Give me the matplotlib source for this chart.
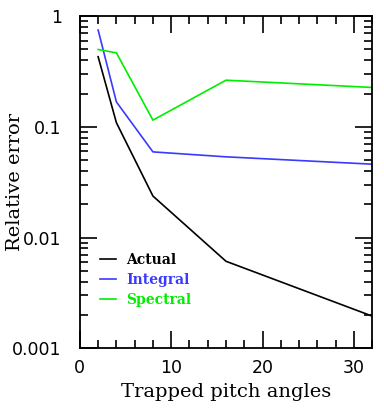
import matplotlib
matplotlib.use("Agg")
import matplotlib.pyplot as plt
from matplotlib.ticker import MultipleLocator, LogLocator, FixedFormatter, FixedLocator, NullFormatter

# data
angles = [2, 4, 8, 16, 32]
actual = [0.43, 0.109, 0.0237, 0.0061, 0.00195]
integral = [0.75, 0.168, 0.0594, 0.0536, 0.046]
spectral = [0.50, 0.466, 0.115, 0.264, 0.227]

names = ["Actual", "Integral", "Spectral"]
colors = ["black", "#3a3aff", "#00ee00"]

fig = plt.figure(figsize=(3.84, 4.15), dpi=100)
ax = fig.add_axes([0.208, 0.161, 0.761, 0.8])

for y, n, c in zip([actual, integral, spectral], names, colors):
    ax.plot(angles, y, color=c, lw=1.2, label=n)

ax.set_yscale("log")
ax.set_xlim(0, 32)
ax.set_ylim(0.001, 1)

ax.xaxis.set_major_locator(MultipleLocator(10))
ax.xaxis.set_minor_locator(MultipleLocator(2))
ax.yaxis.set_major_locator(FixedLocator([0.001, 0.01, 0.1, 1]))
ax.yaxis.set_major_formatter(FixedFormatter(["0.001", "0.01", "0.1", "1"]))
ax.yaxis.set_minor_locator(LogLocator(base=10, subs=range(2, 10)))
ax.yaxis.set_minor_formatter(NullFormatter())

ax.tick_params(which="both", direction="in", top=True, right=True, labelsize=12.5, width=1.2)
ax.tick_params(which="major", length=12)
ax.tick_params(which="minor", length=6)
ax.tick_params(axis="y", which="major", pad=13)
ax.tick_params(axis="x", which="major", pad=8)
for s in ax.spines.values():
    s.set_linewidth(1.3)

ax.set_xlabel("Trapped pitch angles", family="DejaVu Serif", fontsize=14)
ax.set_ylabel("Relative error", family="DejaVu Serif", fontsize=14)
ax.xaxis.set_label_coords(0.5, -0.105)
ax.yaxis.set_label_coords(-0.19, 0.5)

leg = ax.legend(loc="upper left", bbox_to_anchor=(0.025, 0.325), frameon=False,
                handlelength=1.2, handletextpad=0.7, labelspacing=0.45,
                prop={"family": "DejaVu Serif", "weight": "bold", "size": 10})
for t, c in zip(leg.get_texts(), colors):
    t.set_color(c)

fig.savefig("out.png", dpi=100)
